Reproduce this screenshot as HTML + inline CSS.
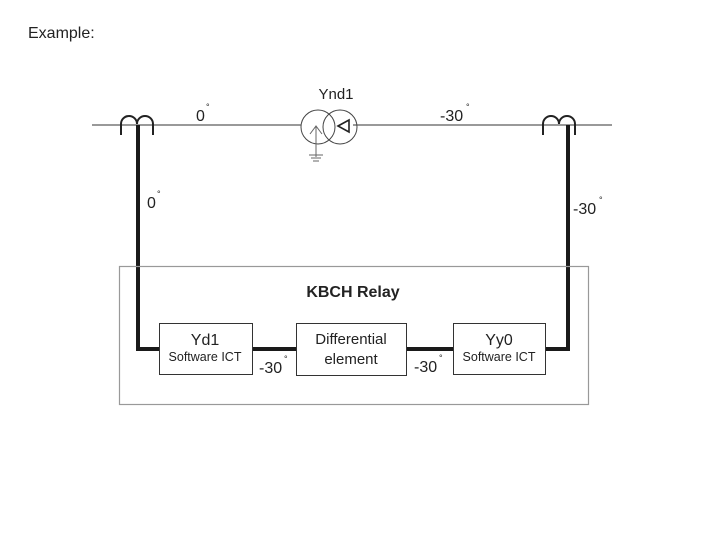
<!DOCTYPE html>
<html><head><meta charset="utf-8"><style>
html,body{margin:0;padding:0;background:#fff;width:720px;height:540px;overflow:hidden}
svg{display:block}
text{font-family:"Liberation Sans",sans-serif;fill:#222}
</style></head><body>
<svg width="720" height="540" viewBox="0 0 720 540" xmlns="http://www.w3.org/2000/svg">
<text x="28" y="38" font-size="16" fill="#000">Example:</text>
<!-- main line -->
<line x1="92" y1="125" x2="301" y2="125" stroke="#333" stroke-width="1"/>
<line x1="353" y1="125" x2="612" y2="125" stroke="#333" stroke-width="1"/>
<!-- left CT -->
<path d="M121,135 V124 A8,8 0 0 1 137,124 A8,8 0 0 1 153,124 V135" fill="none" stroke="#222" stroke-width="2"/>
<!-- right CT -->
<path d="M543,135 V124 A8,8 0 0 1 559,124 A8,8 0 0 1 575,124 V135" fill="none" stroke="#222" stroke-width="2"/>
<!-- transformer -->
<circle cx="318" cy="127" r="17" fill="none" stroke="#444" stroke-width="1"/>
<circle cx="340" cy="127" r="17" fill="none" stroke="#444" stroke-width="1"/>
<path d="M310,134 L316,126 L322,134 M316,126 V157" fill="none" stroke="#666" stroke-width="1"/>
<line x1="309" y1="155" x2="323" y2="155" stroke="#666"/>
<line x1="311" y1="158" x2="321" y2="158" stroke="#666"/>
<line x1="313" y1="161" x2="319" y2="161" stroke="#666"/>
<path d="M338,126 L349,120 L349,132 Z" fill="none" stroke="#222" stroke-width="1.6"/>
<text x="336" y="99" font-size="15" text-anchor="middle">Ynd1</text>
<text x="196" y="121" font-size="16">0</text><text x="206" y="110" font-size="9">°</text>
<text x="440" y="121" font-size="16">-30</text><text x="466" y="110" font-size="9">°</text>
<!-- thick wires -->
<path d="M138,125 V349 H159" fill="none" stroke="#1a1a1a" stroke-width="4"/>
<path d="M568,125 V349 H545" fill="none" stroke="#1a1a1a" stroke-width="4"/>
<line x1="252" y1="349" x2="296" y2="349" stroke="#1a1a1a" stroke-width="4"/>
<line x1="406" y1="349" x2="453" y2="349" stroke="#1a1a1a" stroke-width="4"/>
<text x="147" y="208" font-size="16">0</text><text x="157" y="197" font-size="9">°</text>
<text x="573" y="214" font-size="16">-30</text><text x="599" y="203" font-size="9">°</text>
<!-- relay box -->
<rect x="119.5" y="266.5" width="469" height="138" fill="none" stroke="#999" stroke-width="1.2"/>
<text x="353" y="297" font-size="16" font-weight="bold" text-anchor="middle">KBCH Relay</text>
<rect x="159.5" y="323.5" width="93" height="51" fill="#fff" stroke="#333"/>
<text x="205" y="345" font-size="16" text-anchor="middle">Yd1</text>
<text x="205" y="361" font-size="12.5" text-anchor="middle">Software ICT</text>
<rect x="296.5" y="323.5" width="110" height="52" fill="#fff" stroke="#333"/>
<text x="351" y="344" font-size="15" text-anchor="middle">Differential</text>
<text x="351" y="364" font-size="15" text-anchor="middle">element</text>
<rect x="453.5" y="323.5" width="92" height="51" fill="#fff" stroke="#333"/>
<text x="499" y="345" font-size="16" text-anchor="middle">Yy0</text>
<text x="499" y="361" font-size="12.5" text-anchor="middle">Software ICT</text>
<text x="259" y="373" font-size="16">-30</text><text x="284" y="362" font-size="9">°</text>
<text x="414" y="372" font-size="16">-30</text><text x="439" y="361" font-size="9">°</text>
</svg>
</body></html>
